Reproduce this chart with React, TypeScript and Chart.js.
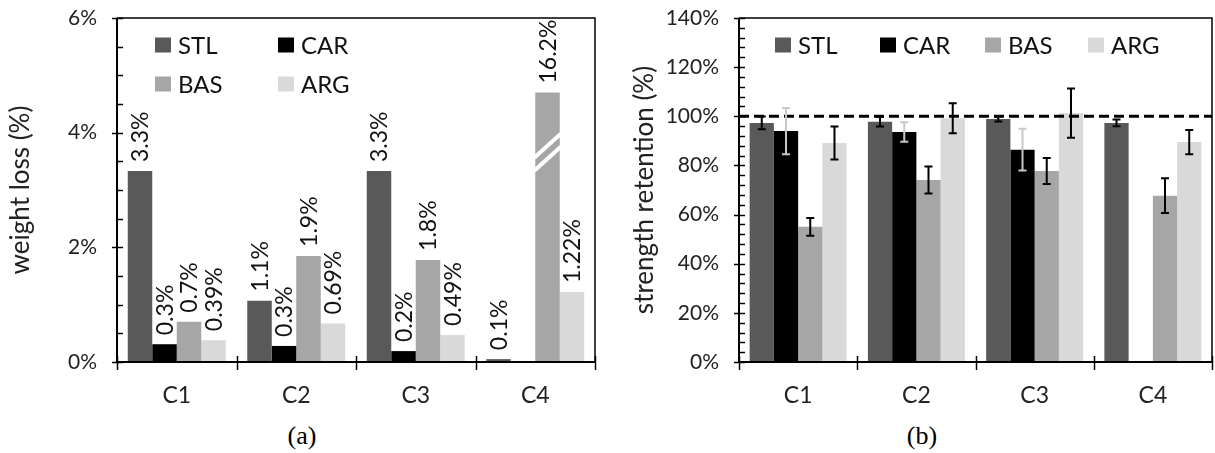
import React, { useEffect, useRef } from "react";
import { Chart, registerables } from "chart.js";

Chart.register(...registerables);

// ---------- data ----------
const CATEGORIES = ["C1", "C2", "C3", "C4"];
const SERIES_NAMES = ["STL", "CAR", "BAS", "ARG"];
const SERIES_COLORS = ["#595959", "#000000", "#a6a6a6", "#d9d9d9"];

// (a) weight loss (%) — drawn heights
const WL_STL = [3.33, 1.07, 3.33, 0.05];
const WL_CAR = [0.31, 0.28, 0.19, 0];
const WL_BAS = [0.7, 1.85, 1.78, 4.7];
const WL_ARG = [0.38, 0.67, 0.47, 1.22];
// (a) printed labels
const WL_STL_LABELS = ["3.3%", "1.1%", "3.3%", "0.1%"];
const WL_CAR_LABELS = ["0.3%", "0.3%", "0.2%", ""];
const WL_BAS_LABELS = ["0.7%", "1.9%", "1.8%", "16.2%"];
const WL_ARG_LABELS = ["0.39%", "0.69%", "0.49%", "1.22%"];
// the truncated bar (BAS, C4) and where its break mark sits
const WL_BREAK_SERIES = 2;
const WL_BREAK_INDEX = 3;
const WL_BREAK_VALUE = 3.65;
const WL_Y_TICKS = [0, 2, 4, 6];

// (b) strength retention (%)
const SR_STL = [97.3, 97.8, 98.9, 97.3];
const SR_CAR = [94.0, 93.6, 86.4, null];
const SR_BAS = [55.0, 74.1, 77.7, 67.7];
const SR_ARG = [89.1, 99.2, 101.3, 89.5];
const SR_STL_ERR = [2.6, 2.0, 1.0, 1.4];
const SR_CAR_ERR = [9.4, 4.0, 8.5, 0];
const SR_BAS_ERR = [3.6, 5.5, 5.3, 7.1];
const SR_ARG_ERR = [6.7, 6.1, 10.0, 4.9];
const SR_REFERENCE = 100;
const SR_Y_TICKS = [0, 20, 40, 60, 80, 100, 120, 140];

const FONT = "Lato";
const TEXT = "#222";

// ---------- helpers ----------
function axesPlugin(cfg: { major: number; minor: number; max: number }) {
  return {
    id: "axesDraw",
    afterDatasetsDraw(chart: any) {
      const { ctx, chartArea: a, scales } = chart;
      const y = scales.y;
      ctx.save();
      ctx.strokeStyle = "#000";
      ctx.lineWidth = 1.5;
      ctx.beginPath();
      ctx.moveTo(a.left, a.top);
      ctx.lineTo(a.right, a.top);
      ctx.lineTo(a.right, a.bottom);
      ctx.stroke();
      ctx.lineWidth = 2;
      ctx.beginPath();
      ctx.moveTo(a.left, a.top);
      ctx.lineTo(a.left, a.bottom);
      ctx.lineTo(a.right, a.bottom);
      ctx.stroke();
      ctx.lineWidth = 1.5;
      for (let v = 0; v <= cfg.max + 1e-9; v += cfg.minor) {
        const py = Math.round(y.getPixelForValue(v)) + 0.5;
        const isMajor = Math.abs(v / cfg.major - Math.round(v / cfg.major)) < 1e-6;
        ctx.beginPath();
        ctx.moveTo(isMajor ? a.left - 5 : a.left, py);
        ctx.lineTo(a.left + 6, py);
        ctx.stroke();
      }
      const n = chart.data.labels.length;
      for (let i = 0; i <= n; i++) {
        const px = Math.round(a.left + (i * (a.right - a.left)) / n) + 0.5;
        ctx.beginPath();
        ctx.moveTo(px, a.bottom - 6);
        ctx.lineTo(px, a.bottom + 8);
        ctx.stroke();
      }
      ctx.restore();
    },
  };
}

function titlePlugin(text: string, cx: number, cy: number) {
  return {
    id: "yTitle",
    afterDraw(chart: any) {
      const ctx = chart.ctx;
      ctx.save();
      ctx.translate(cx, cy);
      ctx.rotate(-Math.PI / 2);
      ctx.font = `26px ${FONT}`;
      ctx.fillStyle = TEXT;
      ctx.textAlign = "center";
      ctx.textBaseline = "middle";
      ctx.fillText(text, 0, 0);
      ctx.restore();
    },
  };
}

function legendPlugin(items: { x: number; y: number }[]) {
  return {
    id: "legendDraw",
    afterDraw(chart: any) {
      const ctx = chart.ctx;
      ctx.save();
      ctx.font = `24px ${FONT}`;
      ctx.textBaseline = "middle";
      ctx.textAlign = "left";
      items.forEach((it, i) => {
        ctx.fillStyle = SERIES_COLORS[i];
        ctx.fillRect(it.x, it.y - 7.5, 16, 15);
        ctx.fillStyle = "#111";
        ctx.fillText(SERIES_NAMES[i], it.x + 23, it.y + 1);
      });
      ctx.restore();
    },
  };
}

function baseOptions(yMax: number, yWidth: number, padRight: number, yTicks: number[]) {
  return {
    responsive: false,
    animation: false as const,
    devicePixelRatio: 1,
    events: [] as any[],
    layout: { padding: { top: 18, right: padRight, left: 0, bottom: 0 } },
    plugins: { legend: { display: false }, tooltip: { enabled: false } },
    scales: {
      x: {
        grid: { display: false, drawTicks: false },
        border: { display: false },
        ticks: { color: TEXT, font: { family: FONT, size: 23 }, padding: 20 },
        afterFit: (s: any) => {
          s.height = 58;
          s.paddingLeft = 0;
          s.paddingRight = 0;
        },
      },
      y: {
        min: 0,
        max: yMax,
        grid: { display: false, drawTicks: false },
        border: { display: false },
        afterBuildTicks: (s: any) => {
          s.ticks = yTicks.map((v) => ({ value: v }));
        },
        ticks: {
          color: TEXT,
          font: { family: FONT, size: 21 },
          padding: 20,
          callback: (v: any) => `${v}%`,
        },
        afterFit: (s: any) => {
          s.width = yWidth;
          s.paddingTop = 0;
          s.paddingBottom = 0;
        },
      },
    },
  };
}

function mkDatasets(series: (number | null)[][]) {
  return series.map((d, i) => ({
    label: SERIES_NAMES[i],
    data: d,
    backgroundColor: SERIES_COLORS[i],
    borderWidth: 0,
    barPercentage: 1,
    categoryPercentage: 0.82,
  }));
}

export default function App() {
  const leftRef = useRef<HTMLCanvasElement>(null);
  const rightRef = useRef<HTMLCanvasElement>(null);

  useEffect(() => {
    const wlLabels = [WL_STL_LABELS, WL_CAR_LABELS, WL_BAS_LABELS, WL_ARG_LABELS];
    const dataLabels = {
      id: "dataLabels",
      afterDatasetsDraw(chart: any) {
        const ctx = chart.ctx;
        const y = chart.scales.y;
        ctx.save();
        // break mark on the truncated bar
        const bEl = chart.getDatasetMeta(WL_BREAK_SERIES).data[WL_BREAK_INDEX];
        const yc = y.getPixelForValue(WL_BREAK_VALUE);
        const hw = bEl.width / 2;
        ctx.strokeStyle = "#fff";
        ctx.lineWidth = 4;
        [0, 13].forEach((off) => {
          ctx.beginPath();
          ctx.moveTo(bEl.x - hw - 1, yc + 5 + off);
          ctx.lineTo(bEl.x + hw + 1, yc - 19 + off);
          ctx.stroke();
        });
        ctx.font = `23px ${FONT}`;
        ctx.fillStyle = "#111";
        ctx.textAlign = "left";
        ctx.textBaseline = "middle";
        wlLabels.forEach((labels, di) => {
          const meta = chart.getDatasetMeta(di);
          meta.data.forEach((el: any, i: number) => {
            const t = labels[i];
            if (!t) return;
            ctx.save();
            ctx.translate(el.x, el.y - 9);
            ctx.rotate(-Math.PI / 2);
            ctx.fillText(t, 0, 1);
            ctx.restore();
          });
        });
        ctx.restore();
      },
    };

    const left = new Chart(leftRef.current as HTMLCanvasElement, {
      type: "bar",
      data: { labels: CATEGORIES, datasets: mkDatasets([WL_STL, WL_CAR, WL_BAS, WL_ARG]) as any },
      options: baseOptions(6, 117, 10, WL_Y_TICKS) as any,
      plugins: [
        dataLabels,
        axesPlugin({ major: 2, minor: 0.5, max: 6 }),
        titlePlugin("weight loss (%)", 21, 190),
        legendPlugin([
          { x: 155, y: 45 },
          { x: 278, y: 45 },
          { x: 155, y: 84 },
          { x: 278, y: 84 },
        ]),
      ],
    });

    const errs = [SR_STL_ERR, SR_CAR_ERR, SR_BAS_ERR, SR_ARG_ERR];
    const errColors = ["#000", "#c8c8c8", "#000", "#000"];
    const errorBars = {
      id: "errorBars",
      afterDatasetsDraw(chart: any) {
        const ctx = chart.ctx;
        const y = chart.scales.y;
        const a = chart.chartArea;
        ctx.save();
        // reference line
        ctx.strokeStyle = "#000";
        ctx.lineWidth = 3;
        ctx.setLineDash([10, 5]);
        const ry = y.getPixelForValue(SR_REFERENCE);
        ctx.beginPath();
        ctx.moveTo(a.left, ry);
        ctx.lineTo(a.right, ry);
        ctx.stroke();
        ctx.setLineDash([]);
        ctx.lineWidth = 2;
        errs.forEach((e, di) => {
          const meta = chart.getDatasetMeta(di);
          const ds = chart.data.datasets[di].data;
          meta.data.forEach((el: any, i: number) => {
            const v = ds[i];
            if (v == null || !e[i]) return;
            const top = y.getPixelForValue(v + e[i]);
            const bot = y.getPixelForValue(v - e[i]);
            ctx.strokeStyle = errColors[di];
            ctx.beginPath();
            ctx.moveTo(el.x, top);
            ctx.lineTo(el.x, bot);
            ctx.moveTo(el.x - 4, top);
            ctx.lineTo(el.x + 4, top);
            ctx.moveTo(el.x - 4, bot);
            ctx.lineTo(el.x + 4, bot);
            ctx.stroke();
          });
        });
        ctx.restore();
      },
    };

    const right = new Chart(rightRef.current as HTMLCanvasElement, {
      type: "bar",
      data: { labels: CATEGORIES, datasets: mkDatasets([SR_STL, SR_CAR, SR_BAS, SR_ARG]) as any },
      options: baseOptions(140, 134, 3, SR_Y_TICKS) as any,
      plugins: [
        errorBars,
        axesPlugin({ major: 20, minor: 4, max: 140 }),
        titlePlugin("strength retention (%)", 40, 190),
        legendPlugin([
          { x: 170, y: 45 },
          { x: 275, y: 45 },
          { x: 380, y: 45 },
          { x: 483, y: 45 },
        ]),
      ],
    });

    return () => {
      left.destroy();
      right.destroy();
    };
  }, []);

  const cap: React.CSSProperties = {
    position: "absolute",
    top: 421,
    width: 60,
    textAlign: "center",
    font: '26px "Liberation Serif"',
    color: "#000",
    lineHeight: "30px",
  };

  return (
    <div style={{ position: "fixed", left: 0, top: 0, width: 1215, height: 453, background: "#fff" }}>
      <canvas ref={leftRef} width={605} height={420} style={{ position: "absolute", left: 0, top: 0 }} />
      <canvas ref={rightRef} width={610} height={420} style={{ position: "absolute", left: 605, top: 0 }} />
      <div style={{ ...cap, left: 302 - 30 }}>(a)</div>
      <div style={{ ...cap, left: 922 - 30 }}>(b)</div>
    </div>
  );
}
